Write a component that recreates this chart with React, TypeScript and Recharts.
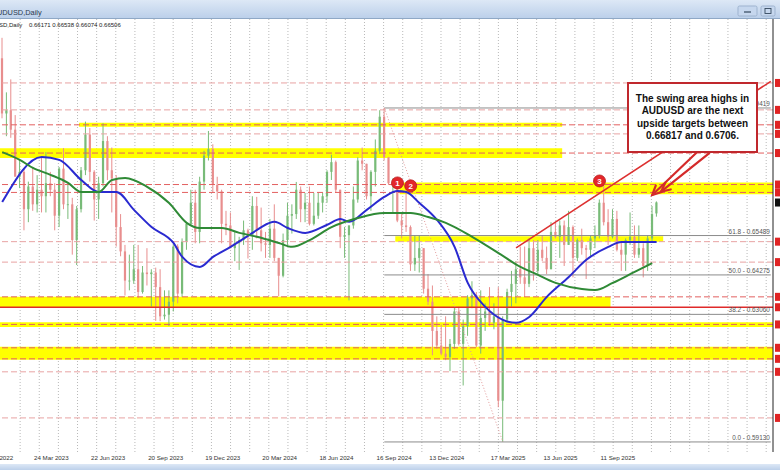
import {
  ComposedChart,
  Bar,
  Line,
  XAxis,
  YAxis,
  CartesianGrid,
  ReferenceArea,
  ReferenceLine,
  ReferenceDot,
} from "recharts";

// weekly AUDUSD candles, week of 30 Jan 2023 .. week of 8 Dec 2025
const opens = [
  0.7095, 0.6925, 0.6935, 0.6875, 0.673, 0.6745, 0.663, 0.67, 0.6645, 0.669,
  0.667, 0.671, 0.669, 0.661, 0.6755, 0.6645, 0.6645, 0.6535, 0.663, 0.675,
  0.686, 0.6745, 0.666, 0.671, 0.684, 0.675, 0.6725, 0.6575, 0.65, 0.641,
  0.641, 0.6445, 0.6375, 0.6435, 0.643, 0.6435, 0.639, 0.63, 0.6305, 0.6345,
  0.6515, 0.637, 0.653, 0.6585, 0.665, 0.656, 0.6715, 0.6795, 0.6815, 0.6705,
  0.6685, 0.6585, 0.658, 0.651, 0.6525, 0.6535, 0.6565, 0.655, 0.664, 0.6565,
  0.6525, 0.652, 0.657, 0.648, 0.6425, 0.6535, 0.661, 0.6615, 0.669, 0.663,
  0.665, 0.6585, 0.661, 0.665, 0.667, 0.6745, 0.6775, 0.669, 0.6545, 0.655,
  0.658, 0.666, 0.678, 0.677, 0.667, 0.6745, 0.681, 0.6915, 0.679, 0.671,
  0.671, 0.6595, 0.658, 0.6575, 0.646, 0.648, 0.651, 0.6385, 0.6345, 0.6255,
  0.621, 0.6185, 0.6175, 0.6215, 0.6315, 0.6215, 0.627, 0.6355, 0.6365, 0.621,
  0.6295, 0.6315, 0.628, 0.63, 0.604, 0.629, 0.6375, 0.64, 0.6445, 0.642,
  0.64, 0.651, 0.644, 0.6505, 0.648, 0.6445, 0.656, 0.6545, 0.658, 0.652,
  0.6575, 0.648, 0.6535, 0.651, 0.6505, 0.654, 0.655, 0.665, 0.659, 0.6545,
  0.66, 0.6505, 0.649, 0.6535, 0.6545, 0.649, 0.651, 0.6455, 0.654, 0.6617,
];
const highs = [
  0.7158, 0.699, 0.703, 0.692, 0.6785, 0.6755, 0.6715, 0.676, 0.6735, 0.679,
  0.6806, 0.6745, 0.671, 0.676, 0.6818, 0.671, 0.6665, 0.664, 0.676, 0.69,
  0.688, 0.675, 0.673, 0.6895, 0.6855, 0.682, 0.6735, 0.6615, 0.652, 0.649,
  0.652, 0.652, 0.6455, 0.651, 0.6445, 0.645, 0.6445, 0.638, 0.638, 0.652,
  0.6522, 0.654, 0.659, 0.669, 0.669, 0.673, 0.681, 0.6871, 0.683, 0.673,
  0.669, 0.6625, 0.662, 0.656, 0.6545, 0.6595, 0.657, 0.667, 0.6668, 0.6635,
  0.656, 0.66, 0.6645, 0.648, 0.6555, 0.665, 0.6645, 0.6714, 0.67, 0.668,
  0.67, 0.668, 0.668, 0.668, 0.675, 0.6798, 0.678, 0.669, 0.6575, 0.658,
  0.67, 0.679, 0.682, 0.677, 0.675, 0.6845, 0.6935, 0.6942, 0.679, 0.6725,
  0.671, 0.6615, 0.6688, 0.658, 0.655, 0.655, 0.651, 0.643, 0.6395, 0.63,
  0.6275, 0.63, 0.623, 0.633, 0.633, 0.629, 0.6365, 0.6408, 0.6375, 0.638,
  0.634, 0.639, 0.634, 0.639, 0.63, 0.6385, 0.644, 0.647, 0.6515, 0.6515,
  0.654, 0.6535, 0.6535, 0.655, 0.6515, 0.659, 0.659, 0.6595, 0.6595, 0.6625,
  0.658, 0.654, 0.657, 0.652, 0.655, 0.658, 0.666, 0.6707, 0.663, 0.663,
  0.6625, 0.653, 0.654, 0.662, 0.658, 0.658, 0.6525, 0.655, 0.664, 0.6654,
];
const lows = [
  0.691, 0.6855, 0.685, 0.6735, 0.6695, 0.6565, 0.659, 0.6625, 0.662, 0.662,
  0.662, 0.667, 0.6565, 0.6575, 0.663, 0.66, 0.649, 0.6458, 0.662, 0.6735,
  0.6715, 0.6595, 0.66, 0.67, 0.672, 0.662, 0.6515, 0.6485, 0.6364, 0.638,
  0.64, 0.6357, 0.637, 0.6395, 0.633, 0.6286, 0.6285, 0.629, 0.627, 0.6315,
  0.634, 0.636, 0.6505, 0.658, 0.6525, 0.6525, 0.669, 0.678, 0.668, 0.666,
  0.6525, 0.655, 0.651, 0.647, 0.6443, 0.652, 0.6478, 0.6505, 0.654, 0.65,
  0.648, 0.648, 0.647, 0.6362, 0.642, 0.652, 0.6555, 0.66, 0.659, 0.659,
  0.658, 0.658, 0.66, 0.662, 0.665, 0.672, 0.668, 0.651, 0.648, 0.6349,
  0.657, 0.665, 0.675, 0.666, 0.6625, 0.67, 0.68, 0.678, 0.6705, 0.662,
  0.659, 0.654, 0.656, 0.644, 0.644, 0.6435, 0.637, 0.6335, 0.618, 0.62,
  0.618, 0.6165, 0.6131, 0.62, 0.621, 0.6087, 0.624, 0.6325, 0.6205, 0.6185,
  0.6255, 0.627, 0.626, 0.602, 0.5913, 0.628, 0.633, 0.634, 0.64, 0.636,
  0.639, 0.641, 0.643, 0.647, 0.643, 0.6445, 0.654, 0.648, 0.6455, 0.652,
  0.642, 0.647, 0.649, 0.6415, 0.6485, 0.651, 0.654, 0.658, 0.652, 0.654,
  0.65, 0.644, 0.644, 0.652, 0.648, 0.648, 0.642, 0.644, 0.653, 0.6607,
];
const closes = [
  0.6925, 0.6935, 0.6875, 0.673, 0.6745, 0.663, 0.67, 0.6645, 0.669, 0.667,
  0.671, 0.669, 0.661, 0.6755, 0.6645, 0.6645, 0.6535, 0.663, 0.675, 0.686,
  0.6745, 0.666, 0.671, 0.684, 0.675, 0.6725, 0.6575, 0.65, 0.641, 0.641,
  0.6445, 0.6375, 0.6435, 0.643, 0.6435, 0.639, 0.63, 0.6305, 0.6345, 0.6515,
  0.637, 0.653, 0.6585, 0.665, 0.656, 0.6715, 0.6795, 0.6815, 0.6705, 0.6685,
  0.6585, 0.658, 0.651, 0.6525, 0.6535, 0.6565, 0.655, 0.664, 0.6565, 0.6525,
  0.652, 0.657, 0.648, 0.6425, 0.6535, 0.661, 0.6615, 0.669, 0.663, 0.665,
  0.6585, 0.661, 0.665, 0.667, 0.6745, 0.6775, 0.669, 0.6545, 0.655, 0.658,
  0.666, 0.678, 0.677, 0.667, 0.6745, 0.681, 0.6915, 0.679, 0.671, 0.671,
  0.6595, 0.658, 0.6575, 0.646, 0.648, 0.651, 0.6385, 0.6345, 0.6255, 0.621,
  0.6185, 0.6175, 0.6215, 0.6315, 0.6215, 0.627, 0.6355, 0.6365, 0.621, 0.6295,
  0.6315, 0.628, 0.63, 0.604, 0.629, 0.6375, 0.64, 0.6445, 0.642, 0.64,
  0.651, 0.644, 0.6505, 0.648, 0.6445, 0.656, 0.6545, 0.658, 0.652, 0.6575,
  0.648, 0.6535, 0.651, 0.6505, 0.654, 0.655, 0.665, 0.659, 0.6545, 0.66,
  0.6505, 0.649, 0.6535, 0.6545, 0.649, 0.651, 0.6455, 0.654, 0.6615, 0.6651,
];

// moving averages at selected weeks
const ma100Weeks = [0, 9, 13, 18, 22, 26, 30, 34, 39, 41, 45, 48, 52, 57, 59, 62, 65, 69, 74, 77, 79, 83, 87, 90, 92, 95, 99, 103, 106, 110, 114, 117, 120, 124, 129, 133, 138, 141, 145, 149];
const ma100 = [0.6652, 0.6791, 0.6782, 0.672, 0.6683, 0.6683, 0.6628, 0.6575, 0.6526, 0.6483, 0.6452, 0.6483, 0.6514, 0.6557, 0.6575, 0.6591, 0.6572, 0.6557, 0.6582, 0.66, 0.6591, 0.6628, 0.6668, 0.6686, 0.6683, 0.6649, 0.6597, 0.6514, 0.6403, 0.6329, 0.6289, 0.628, 0.6298, 0.636, 0.6421, 0.6474, 0.6514, 0.6529, 0.6529, 0.6529];
const ma200Weeks = [0, 4, 7, 11, 15, 18, 22, 25, 28, 33, 38, 42, 45, 50, 54, 58, 63, 66, 70, 75, 81, 87, 93, 97, 101, 107, 113, 118, 121, 126, 132, 135, 139, 144, 148];
const ma200 = [0.6806, 0.6782, 0.6757, 0.6736, 0.6711, 0.6683, 0.6683, 0.672, 0.6726, 0.6699, 0.6649, 0.6588, 0.6572, 0.6572, 0.6557, 0.6545, 0.6526, 0.6514, 0.6535, 0.6575, 0.6603, 0.6618, 0.6618, 0.6606, 0.6588, 0.6545, 0.6495, 0.6452, 0.6434, 0.6403, 0.6384, 0.6381, 0.6403, 0.6437, 0.6464];

const tickWeeks = [0, 7, 20, 33, 46, 59, 72, 85, 97, 111, 123, 136];
const tickLabels = ["23 Dec 2022", "24 Mar 2023", "22 Jun 2023", "20 Sep 2023", "19 Dec 2023", "20 Mar 2024", "18 Jun 2024", "16 Sep 2024", "13 Dec 2024", "17 Mar 2025", "13 Jun 2025", "11 Sep 2025"];

// drawn horizontal levels
const lightLevels = [0.7019, 0.6936, 0.6862, 0.653, 0.6467, 0.6129, 0.5987];
const redLevels = [0.6890, 0.6803, 0.6706, 0.66817, 0.636, 0.6275, 0.6203, 0.6169];
const solidLevel = 0.6328;

// yellow zones: first week, last week, low, high
const zoneFrom = [18, 0, 91, 90, 0, 0, 0];
const zoneTo = [127, 127, 175, 150, 138, 175, 175];
const zoneLow = [0.6884, 0.6788, 0.6676, 0.653, 0.6328, 0.6267, 0.6166];
const zoneHigh = [0.6896, 0.6818, 0.6712, 0.6547, 0.636, 0.6282, 0.6206];

// fibonacci retracement of the Sep 2024 high to the Apr 2025 low
const fibNames = ["100.0", "61.8", "50.0", "38.2", "0.0"];
const fibValues = [0.69419, 0.65489, 0.64275, 0.6306, 0.5913];
const fibStartWeek = 87;
const fibEndWeek = 114;

const slots = 176;
const lastClose = 0.66506;

const rows = Array.from({ length: slots }, (_, i) => {
  const a = ma100Weeks.indexOf(i);
  const b = ma200Weeks.indexOf(i);
  const has = i < closes.length;
  return {
    i,
    range: has ? [lows[i], highs[i]] : null,
    open: opens[i],
    high: highs[i],
    low: lows[i],
    close: closes[i],
    ma100: a >= 0 ? ma100[a] : null,
    ma200: b >= 0 ? ma200[b] : null,
  };
});

const FONT = "'Liberation Sans', Arial, sans-serif";

const Candle = (p: any) => {
  const { x, y, width, height, payload } = p;
  if (!payload || payload.range == null || !isFinite(y)) return null;
  const { open, close, high, low } = payload;
  const span = high - low || 1e-6;
  const toY = (v: number) => y + ((high - v) / span) * height;
  const cx = x + width / 2;
  const col = close >= open ? "#78bb78" : "#e88e8e";
  const top = toY(Math.max(open, close));
  const bot = toY(Math.min(open, close));
  return (
    <g>
      <line x1={cx} x2={cx} y1={y} y2={y + height} stroke={col} strokeWidth={1} />
      <rect x={cx - 1.1} y={top} width={2.2} height={Math.max(bot - top, 0.8)} fill={col} />
    </g>
  );
};

const DateTick = (p: any) => {
  const k = tickWeeks.indexOf(p.payload.value);
  if (k < 0) return null;
  const first = k === 0;
  return (
    <text x={first ? p.x + 11 : p.x + 1} y={p.y + 8} textAnchor={first ? "end" : "start"} fontSize={6.2} fill="#333" fontFamily={FONT}>
      {tickLabels[k]}
    </text>
  );
};

const PriceTag = (p: any) => {
  const v = p.payload.value;
  return <rect x={p.x} y={p.y - 4} width={8} height={8} fill={v === lastClose ? "#111" : "#e02424"} />;
};

const FibLabel = (p: any) => {
  const vb = p.viewBox || {};
  return (
    <text x={vb.x + vb.width - 1} y={vb.y - 2} textAnchor="end" fontSize={6.4} fill="#555" fontFamily={FONT}>
      {p.text}
    </text>
  );
};

const Arrow = (p: any) => {
  const { x1, y1, x2, y2 } = p;
  const ang = Math.atan2(y1 - y2, x1 - x2);
  const len = 10;
  const a1 = ang + 0.45;
  const a2 = ang - 0.45;
  return (
    <g stroke="#d42a2a" strokeWidth={2.2} fill="none" strokeLinecap="round">
      <line x1={x1} y1={y1} x2={x2} y2={y2} />
      <polyline points={`${x2 + len * Math.cos(a1)},${y2 + len * Math.sin(a1)} ${x2},${y2} ${x2 + len * Math.cos(a2)},${y2 + len * Math.sin(a2)}`} />
    </g>
  );
};

const gridX = ({ offset }: any) => {
  const out: number[] = [];
  for (let k = 1; offset.left + 1 + k * 19.13 < offset.left + offset.width; k++) out.push(offset.left + 1 + k * 19.13);
  return out;
};

export default function App() {
  const axisMarks = [...lightLevels, ...redLevels, solidLevel, lastClose];
  return (
    <div style={{ position: "fixed", left: 0, top: 0, width: 780, height: 470, overflow: "hidden", background: "#fff", fontFamily: FONT }}>
      <ComposedChart width={780} height={470} data={rows} margin={{ top: 19, right: 0, bottom: 0, left: 0 }} barCategoryGap="0%">
        <CartesianGrid horizontal={false} stroke="#b9b9b9" strokeDasharray="1 2" verticalCoordinatesGenerator={gridX} />
        <XAxis dataKey="i" height={18} ticks={tickWeeks} interval={0} tick={<DateTick />} axisLine={false} tickLine={false} tickSize={0} tickMargin={0} />
        <YAxis orientation="right" width={7} domain={[0.5882, 0.7216]} allowDataOverflow ticks={axisMarks} interval={0} tick={<PriceTag />} tickLine={false} tickSize={0} tickMargin={2} axisLine={{ stroke: "#222" }} />

        {zoneLow.map((lo, k) => (
          <ReferenceArea key={`z${k}`} x1={zoneFrom[k]} x2={zoneTo[k]} y1={lo} y2={zoneHigh[k]} fill="#ffff00" fillOpacity={1} stroke="none" />
        ))}
        {lightLevels.map((v) => (
          <ReferenceLine key={`l${v}`} y={v} stroke="#e8a3a3" strokeDasharray="6 3" strokeWidth={1} />
        ))}
        {redLevels.map((v) => (
          <ReferenceLine key={`r${v}`} y={v} stroke="#e36060" strokeDasharray="6 3" strokeWidth={1} />
        ))}
        <ReferenceLine y={solidLevel} stroke="#e02a2a" strokeWidth={1.5} />

        {fibValues.map((v, k) => (
          <ReferenceLine
            key={`f${k}`}
            segment={[{ x: fibStartWeek, y: v }, { x: slots - 1, y: v }]}
            stroke="#8c8c8c"
            strokeWidth={1}
            label={<FibLabel text={`${fibNames[k]} - ${v.toFixed(5)}`} />}
          />
        ))}
        <ReferenceLine segment={[{ x: fibStartWeek, y: 0.6942 }, { x: fibEndWeek, y: 0.5913 }]} stroke="#e39a9a" strokeDasharray="1 2" />

        <Bar dataKey="range" shape={<Candle />} isAnimationActive={false} />
        <Line type="monotone" dataKey="ma100" stroke="#2a2ad0" strokeWidth={2} dot={false} connectNulls isAnimationActive={false} />
        <Line type="monotone" dataKey="ma200" stroke="#2f8a36" strokeWidth={2} dot={false} connectNulls isAnimationActive={false} />

        <ReferenceLine segment={[{ x: 117, y: 0.6511 }, { x: 175, y: 0.7024 }]} stroke="#dd3030" strokeWidth={1.5} />
        <ReferenceLine segment={[{ x: 158, y: 0.6803 }, { x: 148, y: 0.6674 }]} shape={<Arrow />} />
        <ReferenceLine segment={[{ x: 161, y: 0.6803 }, { x: 150, y: 0.6684 }]} shape={<Arrow />} />

        {[
          { w: 90, v: 0.6711, t: "1" },
          { w: 93, v: 0.6702, t: "2" },
          { w: 136, v: 0.6717, t: "3" },
        ].map((m) => (
          <ReferenceDot key={m.t} x={m.w} y={m.v} r={6} fill="#e3262b" stroke="#b71c1c" strokeWidth={0.8}
            label={{ value: m.t, position: "center", fill: "#fff", fontSize: 8, fontWeight: 700, fontFamily: FONT }} />
        ))}
      </ComposedChart>

      <svg width={780} height={470} style={{ position: "absolute", left: 0, top: 0, pointerEvents: "none" }}>
        <defs>
          <linearGradient id="bar" x1="0" y1="0" x2="0" y2="1">
            <stop offset="0" stopColor="#dde8f6" />
            <stop offset="1" stopColor="#bcd0ea" />
          </linearGradient>
        </defs>
        <rect x={0} y={0} width={780} height={18} fill="url(#bar)" />
        <line x1={0} x2={780} y1={18.5} y2={18.5} stroke="#8fa8c6" />
        <text x={-8} y={15} fontSize={7.4} fill="#2b3a4e" fontFamily={FONT}>AUDUSD,Daily</text>
        <rect x={738} y={6} width={19} height={10} rx={1.5} fill="#c6d7ee" stroke="#9eb3cf" />
        <line x1={744} x2={751} y1={12} y2={12} stroke="#34495e" strokeWidth={1.2} />
        <rect x={761} y={6} width={14} height={10} rx={1.5} fill="#c6d7ee" stroke="#9eb3cf" />
        <rect x={765} y={8.5} width={6} height={5} fill="none" stroke="#34495e" strokeWidth={0.9} />
        <text x={-18} y={27} fontSize={6} fill="#222" fontFamily={FONT}>AUDUSD,Daily</text>
        <text x={29} y={27} fontSize={6} fill="#222" fontFamily={FONT}>0.66171 0.66538 0.66074 0.66506</text>
        <rect x={0} y={464} width={780} height={6} fill="url(#bar)" />
      </svg>

      <div
        style={{
          position: "absolute",
          left: 627,
          top: 82,
          width: 131,
          height: 71,
          boxSizing: "border-box",
          background: "#fff",
          border: "2px solid #c0282d",
          display: "flex",
          alignItems: "center",
          justifyContent: "center",
          textAlign: "center",
          fontWeight: 700,
          fontSize: 10,
          lineHeight: "12.2px",
          color: "#111",
        }}
      >
        <div>
          The swing area highs in
          <br />
          AUDUSD are the next
          <br />
          upside targets between
          <br />
          0.66817 and 0.6706.
        </div>
      </div>
    </div>
  );
}
